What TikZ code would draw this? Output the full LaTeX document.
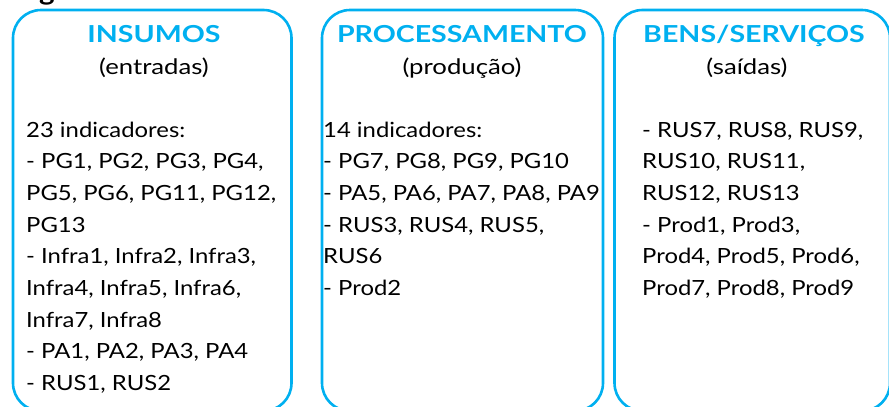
\documentclass[tikz,border=0pt]{standalone}
\usepackage{fontspec}
\setmainfont[FakeStretch=1.14]{Lato}
\newfontfamily\titlefont[FakeStretch=1.22]{Lato}
\newfontfamily\subfont[FakeStretch=1.2]{Lato}
\definecolor{boxblue}{RGB}{0,176,240}
\begin{document}
\begin{tikzpicture}[x=1bp,y=-1bp,
  colbox/.style={draw=boxblue, line width=2.6bp, rounded corners=28bp, inner sep=0pt, outer sep=0pt},
  title/.style={anchor=base, text=boxblue, font=\titlefont\fontsize{23.5}{28}\selectfont\bfseries, inner sep=0pt},
  sub/.style={anchor=base, font=\subfont\fontsize{21.5}{25}\selectfont, inner sep=0pt},
  body/.style={anchor=base west, font=\fontsize{21}{25}\selectfont, inner sep=0pt}]
\useasboundingbox (0,0) rectangle (889,406);
\clip (0,0) rectangle (889,406);
% cut-off heading letter
\node[anchor=base, font=\fontsize{26}{30}\selectfont\bfseries, inner sep=0pt] (head) at (47,0) {g};
% boxes
\node[colbox, minimum width=278.5bp, minimum height=401bp] (box1) at (152.25,210.5) {};
\node[colbox, minimum width=281bp, minimum height=401bp] (box2) at (462.5,210.5) {};
\node[colbox, minimum width=275.5bp, minimum height=401bp] (box3) at (752.25,210.5) {};
% titles
\node[title] (t1) at (154,42) {INSUMOS};
\node[title] (t2) at (462,42) {PROCESSAMENTO};
\node[title] (t3) at (754,42) {BENS/SERVIÇOS};
\node[sub] (s1) at (154,74) {(entradas)};
\node[sub] (s2) at (462,74) {(produção)};
\node[sub] (s3) at (747,74) {(saídas)};
% column 1
\foreach \txt [count=\i from 0] in {23 indicadores:,
  {- PG1, PG2, PG3, PG4,},
  {PG5, PG6, PG11, PG12,},
  PG13,
  {- Infra1, Infra2, Infra3,},
  {Infra4, Infra5, Infra6,},
  {Infra7, Infra8},
  {- PA1, PA2, PA3, PA4},
  {- RUS1, RUS2}}
  \node[body] (a\i) at (26,137+31.7*\i) {\txt};
% column 2
\foreach \txt [count=\i from 0] in {14 indicadores:,
  {- PG7, PG8, PG9, PG10},
  {- PA5, PA6, PA7, PA8, PA9},
  {- RUS3, RUS4, RUS5,},
  RUS6,
  - Prod2}
  \node[body] (b\i) at (323,137+31.7*\i) {\txt};
% column 3
\foreach \txt [count=\i from 0] in {{- RUS7, RUS8, RUS9,},
  {RUS10, RUS11,},
  {RUS12, RUS13},
  {- Prod1, Prod3,},
  {Prod4, Prod5, Prod6,},
  {Prod7, Prod8, Prod9}}
  \node[body] (c\i) at (642,137+31.7*\i) {\txt};
\end{tikzpicture}
\end{document}
